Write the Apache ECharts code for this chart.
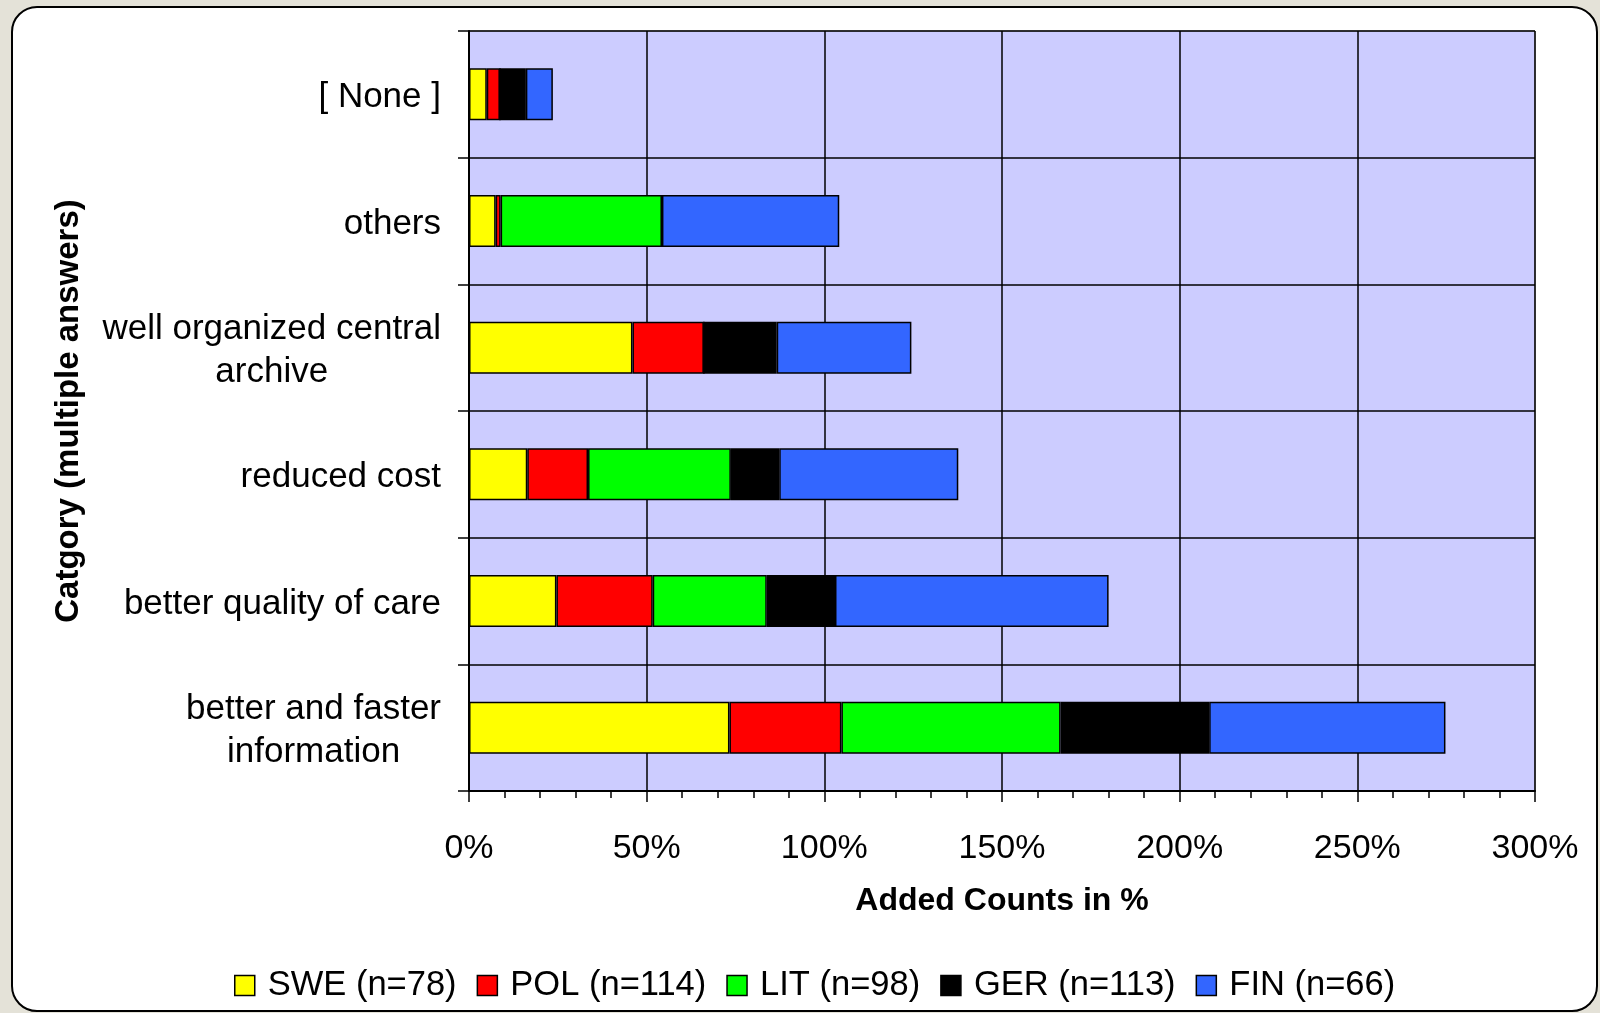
<!DOCTYPE html>
<html>
<head>
<meta charset="utf-8">
<script src="https://cdn.jsdelivr.net/npm/echarts@6/dist/echarts.min.js"></script>
<style>
  html, body { margin: 0; padding: 0; background: #E4E2D8; }
  #panel {
    position: absolute; left: 11px; top: 6px; width: 1587px; height: 1006px;
    box-sizing: border-box; border: 2px solid #000; border-radius: 26px; background: #fff;
  }
  #chartContainer { position: absolute; left: 0; top: 0; width: 1600px; height: 1013px; }
</style>
</head>
<body>
<div id="panel"></div>
<div id="chartContainer"></div>
<script>
// categories, bottom to top
var CATEGORIES = [
  'better and faster\ninformation',
  'better quality of care',
  'reduced cost',
  'well organized central\narchive',
  'others',
  '[ None ]'
];

var SERIES_NAMES = ['SWE (n=78)', 'POL (n=114)', 'LIT (n=98)', 'GER (n=113)', 'FIN (n=66)'];
var SERIES_COLORS = ['#FFFF00', '#FF0000', '#00FF00', '#000000', '#3366FF'];

// percent values, same order as CATEGORIES
var SWE = [73.3, 24.6, 16.4, 46.0, 7.5, 5.0];
var POL = [31.5, 27.1, 17.1, 20.1, 1.4, 3.7];
var LIT = [61.7, 32.1, 40.2, 0, 45.4, 0];
var GER = [41.8, 19.2, 13.6, 20.5, 0, 7.3];
var FIN = [66.5, 77.0, 50.4, 37.9, 49.9, 7.6];

var X_TICKS = [0, 50, 100, 150, 200, 250, 300];

var FONT = "'Liberation Sans', Arial, sans-serif";

var CHART;

function buildSeries() {
  var values = [SWE, POL, LIT, GER, FIN];
  var out = [];
  for (let i = 0; i < values.length; i++) {
    out.push({
      name: SERIES_NAMES[i],
      type: 'bar',
      stack: 'total',
      barWidth: 52,
      data: values[i],
      itemStyle: {
        color: SERIES_COLORS[i],
        borderColor: '#000',
        borderWidth: 1.5
      }
    });
  }
  return out;
}

var CHART_OPTION = {
  animation: false,
  backgroundColor: 'transparent',
  textStyle: { fontFamily: FONT, color: '#000' },
  grid: {
    left: 469,
    right: 65,
    top: 31,
    bottom: 222,
    show: true,
    backgroundColor: '#CCCCFF',
    borderColor: '#808080',
    borderWidth: 1
  },
  legend: {
    bottom: 5,
    left: 229,
    itemWidth: 20,
    itemHeight: 20,
    itemGap: 20,
    icon: 'rect',
    data: SERIES_NAMES,
    itemStyle: { borderColor: '#000', borderWidth: 1.5 },
    textStyle: { fontFamily: FONT, fontSize: 34.5, color: '#000', padding: [0, 0, 0, 8] }
  },
  xAxis: {
    type: 'value',
    min: X_TICKS[0],
    max: X_TICKS[X_TICKS.length - 1],
    interval: 50,
    name: 'Added Counts in %',
    nameLocation: 'middle',
    nameGap: 94,
    nameTextStyle: { fontFamily: FONT, fontSize: 32, fontWeight: 'bold', color: '#000' },
    axisLine: { show: true, lineStyle: { color: '#000', width: 2 } },
    axisTick: { show: true, length: 11, lineStyle: { color: '#000', width: 1.5 } },
    minorTick: { show: true, splitNumber: 5, length: 7, lineStyle: { color: '#000', width: 1.5 } },
    splitLine: { show: true, lineStyle: { color: '#000', width: 1.5 } },
    axisLabel: {
      margin: 41,
      fontSize: 34,
      color: '#000',
      fontFamily: FONT,
      formatter: v => v + '%'
    }
  },
  yAxis: {
    type: 'category',
    data: CATEGORIES,
    name: 'Catgory (multiple answers)',
    nameLocation: 'middle',
    nameRotate: 90,
    nameGap: 384,
    nameTextStyle: { fontFamily: FONT, fontSize: 33, fontWeight: 'bold', color: '#000' },
    axisLine: { show: true, lineStyle: { color: '#000', width: 2 } },
    axisTick: { show: true, length: 11, lineStyle: { color: '#000', width: 1.5 } },
    splitLine: { show: true, lineStyle: { color: '#000', width: 1.5 } },
    axisLabel: {
      margin: 28,
      fontSize: 35,
      lineHeight: 43,
      padding: [7, 0, 0, 0],
      color: '#000',
      fontFamily: FONT,
      formatter: (value) => value.split('\n').map(l => '{c|' + l + '}').join('\n'),
      rich: {
        c: { align: 'center', fontSize: 35, lineHeight: 43, fontFamily: FONT, color: '#000' }
      }
    }
  },
  series: buildSeries()
};

window.onload = _ => {
  CHART = echarts.init(document.getElementById('chartContainer'), null, { renderer: 'canvas' });
  CHART.setOption(CHART_OPTION);
};
</script>
</body>
</html>
